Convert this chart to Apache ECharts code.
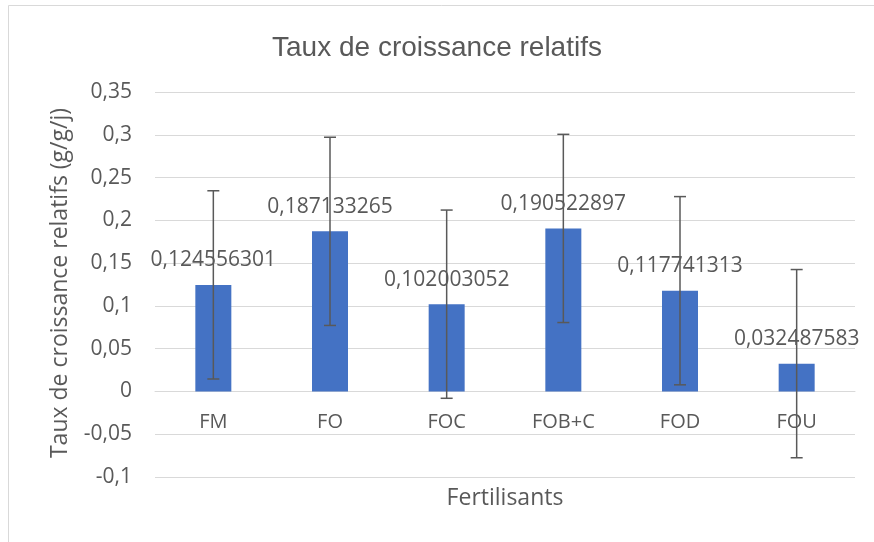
<!DOCTYPE html>
<html>
<head>
<meta charset="utf-8">
<script src="https://cdn.jsdelivr.net/npm/echarts@6/dist/echarts.min.js"></script>
<style>
  html, body { margin: 0; padding: 0; background: #fff; }
  #chart { width: 874px; height: 542px; }
</style>
</head>
<body>
<div id="chart"></div>
<script>
// donnees
var categories = ['FM', 'FO', 'FOC', 'FOB+C', 'FOD', 'FOU'];
var taux = [0.124556301, 0.187133265, 0.102003052, 0.190522897, 0.117741313, 0.032487583];
var erreurs = [0.110, 0.110, 0.110, 0.110, 0.110, 0.110];
var yTicks = { min: -0.1, max: 0.35, step: 0.05 };

var texte = '#595959';
var gris = '#d9d9d9';
var police = '"Open Sans", "Noto Sans", sans-serif';

var barres = [];
var zeros = [];
for (var i = 0; i < categories.length; i++) {
  barres.push([i, taux[i] - erreurs[i], taux[i] + erreurs[i]]);
  zeros.push([i, 0]);
}

function virgule(v) {
  return String(v).replace('.', ',');
}

var chart = echarts.init(document.getElementById('chart'));
var option = {
  animation: false,
  backgroundColor: '#fff',
  textStyle: { fontFamily: police },
  title: {
    text: 'Taux de croissance relatifs',
    left: 'center',
    top: 29,
    textStyle: {
      fontFamily: '"Liberation Sans", Arial, sans-serif',
      fontSize: 28,
      fontWeight: 'normal',
      color: texte
    }
  },
  grid: { left: 155, right: 19, top: 92, bottom: 65 },
  xAxis: {
    type: 'category',
    data: categories,
    axisLine: { onZero: true, lineStyle: { color: gris, width: 1 } },
    axisTick: { show: false },
    axisLabel: { show: false }
  },
  yAxis: {
    type: 'value',
    min: yTicks.min,
    max: yTicks.max,
    interval: yTicks.step,
    axisLine: { show: false },
    axisTick: { show: false },
    splitLine: { lineStyle: { color: gris, width: 1 } },
    axisLabel: {
      margin: 23,
      fontSize: 21,
      color: texte,
      fontFamily: police,
      formatter: function (v) { return virgule(+v.toFixed(2)); }
    }
  },
  graphic: [
    {
      type: 'rect',
      silent: true,
      shape: { x: 8.5, y: 5.5, width: 900, height: 600 },
      style: { fill: 'none', stroke: gris, lineWidth: 1 }
    },
    {
      type: 'text',
      silent: true,
      x: 60,
      y: 283,
      rotation: Math.PI / 2,
      style: {
        text: 'Taux de croissance relatifs (g/g/j)',
        fontSize: 23,
        fontFamily: police,
        fill: texte,
        textAlign: 'center',
        textVerticalAlign: 'middle'
      }
    },
    {
      type: 'text',
      silent: true,
      x: 505,
      y: 498,
      style: {
        text: 'Fertilisants',
        fontSize: 23,
        fontFamily: police,
        fill: texte,
        textAlign: 'center',
        textVerticalAlign: 'middle'
      }
    }
  ],
  series: [
    {
      type: 'bar',
      data: taux,
      barWidth: 36,
      itemStyle: { color: '#4472C4' },
      label: {
        show: true,
        position: 'top',
        distance: 14,
        fontSize: 21,
        color: texte,
        fontFamily: police,
        formatter: function (p) { return virgule(p.value); }
      },
      z: 2
    },
    {
      // noms des categories poses sous l'axe a zero
      type: 'scatter',
      data: zeros,
      symbolSize: 0,
      silent: true,
      z: 1,
      itemStyle: { opacity: 1 },
      label: {
        show: true,
        position: 'bottom',
        distance: 21,
        fontSize: 20,
        color: texte,
        opacity: 1,
        fontFamily: police,
        formatter: function (p) { return categories[p.dataIndex]; }
      }
    },
    {
      type: 'custom',
      data: barres,
      z: 5,
      renderItem: function (params, api) {
        var x = api.value(0);
        var bas = api.coord([x, api.value(1)]);
        var haut = api.coord([x, api.value(2)]);
        var demi = 6;
        var style = { stroke: texte, lineWidth: 1.5 };
        return {
          type: 'group',
          children: [
            { type: 'line', shape: { x1: haut[0], y1: haut[1], x2: bas[0], y2: bas[1] }, style: style },
            { type: 'line', shape: { x1: haut[0] - demi, y1: haut[1], x2: haut[0] + demi, y2: haut[1] }, style: style },
            { type: 'line', shape: { x1: bas[0] - demi, y1: bas[1], x2: bas[0] + demi, y2: bas[1] }, style: style }
          ]
        };
      }
    }
  ]
};
chart.setOption(option);
</script>
</body>
</html>
